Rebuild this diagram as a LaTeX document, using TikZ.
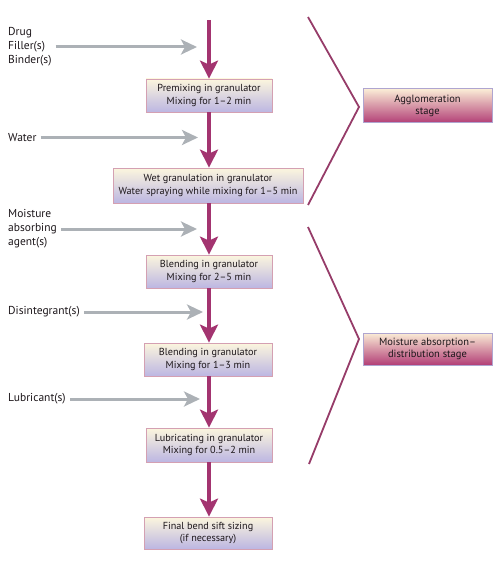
\documentclass[tikz,border=0pt]{standalone}
\usepackage{fontspec}
\setmainfont{PT Sans}
\usetikzlibrary{arrows.meta}
\definecolor{mainarr}{RGB}{163,52,112}
\definecolor{grayarr}{RGB}{172,177,182}
\definecolor{bracketcol}{RGB}{150,60,105}
\definecolor{proctop}{RGB}{252,246,222}
\definecolor{procbot}{RGB}{188,182,226}
\definecolor{procborder}{RGB}{212,160,178}
\definecolor{stagetop}{RGB}{250,236,214}
\definecolor{stagebot}{RGB}{178,62,118}
\definecolor{stageborder}{RGB}{175,165,208}
\definecolor{textcol}{RGB}{28,22,26}
\begin{document}
\begin{tikzpicture}[x=1pt,y=-1pt,
  procbox/.style={draw=procborder, line width=0.8pt, top color=proctop, bottom color=procbot,
    minimum height=33pt, inner sep=0pt, align=center, text=textcol,
    font=\fontsize{10.2}{12.6}\selectfont},
  stagebox/.style={draw=stageborder, line width=1pt, top color=stagetop, bottom color=stagebot,
    minimum width=129pt, minimum height=33pt, inner sep=0pt, align=center, text=textcol,
    font=\fontsize{10.5}{12.6}\selectfont},
  inlabel/.style={anchor=west, inner sep=0pt, align=left, text=textcol,
    font=\fontsize{11.5}{14}\selectfont},
  mainflow/.style={draw=mainarr, line width=3.4pt,
    -{Stealth[length=18pt,width=18pt,inset=4pt]}},
  feed/.style={draw=grayarr, line width=3pt, shorten <=4pt,
    -{Stealth[length=16pt,width=15pt,inset=4pt]}},
  bracket/.style={draw=bracketcol, line width=1.8pt, line join=miter}]
\useasboundingbox (0,0) rectangle (501,567);

% process boxes
\node[procbox, minimum width=126pt] (b1) at (209,95.5) {Premixing in granulator\\Mixing for 1--2 min};
\node[procbox, minimum width=190pt, minimum height=35pt] (b2) at (208,185.5) {Wet granulation in granulator\\Water spraying while mixing for 1--5 min};
\node[procbox, minimum width=126pt] (b3) at (209,271.5) {Blending in granulator\\Mixing for 2--5 min};
\node[procbox, minimum width=128pt] (b4) at (208,359.5) {Blending in granulator\\Mixing for 1--3 min};
\node[procbox, minimum width=126pt, minimum height=34pt] (b5) at (209,445) {Lubricating in granulator\\Mixing for 0.5--2 min};
\node[procbox, minimum width=128pt, minimum height=32pt] (b6) at (208,533) {Final bend sift sizing\\(if necessary)};

% main flow
\coordinate (top) at (209,20);
\draw[mainflow] (top) -- (b1.north -| top);
\draw[mainflow] (b1.south -| top) -- (b2.north -| top);
\draw[mainflow] (b2.south -| top) -- (b3.north -| top);
\draw[mainflow] (b3.south -| top) -- (b4.north -| top);
\draw[mainflow] (b4.south -| top) -- (b5.north -| top);
\draw[mainflow] (b5.south -| top) -- (b6.north -| top);

% input labels
\node[inlabel] (drug) at (8,47) {Drug\\Filler(s)\\Binder(s)};
\node[inlabel] (water) at (8,137.5) {Water};
\node[inlabel] (moist) at (8,229) {Moisture\\absorbing\\agent(s)};
\node[inlabel] (disint) at (8,312) {Disintegrant(s)};
\node[inlabel] (lubr) at (8,399) {Lubricant(s)};

\coordinate (drugtip) at (197,47);
\coordinate (watertip) at (198,137.5);
\coordinate (moisttip) at (197,229);
\coordinate (disinttip) at (203,312);
\coordinate (lubrtip) at (200,399);

\draw[feed] (drug.east) -- (drugtip);
\draw[feed] (water.east) -- (watertip);
\draw[feed] (moist.east) -- (moisttip);
\draw[feed] (disint.east) -- (disinttip);
\draw[feed] (lubr.east) -- (lubrtip);

% stage boxes
\node[stagebox, minimum height=34pt] (s1) at (427.5,106) {Agglomeration\\stage};
\node[stagebox, minimum height=32pt] (s2) at (427.5,349) {Moisture absorption--\\distribution stage};

% brackets
\coordinate (a1) at (308,17);
\coordinate (a2) at (359,107);
\coordinate (a3) at (308,205);
\coordinate (c1) at (308,227);
\coordinate (c2) at (359,339);
\coordinate (c3) at (309,464);
\draw[bracket] (a1) -- (a2) -- (a3);
\draw[bracket] (c1) -- (c2) -- (c3);
\end{tikzpicture}
\end{document}
